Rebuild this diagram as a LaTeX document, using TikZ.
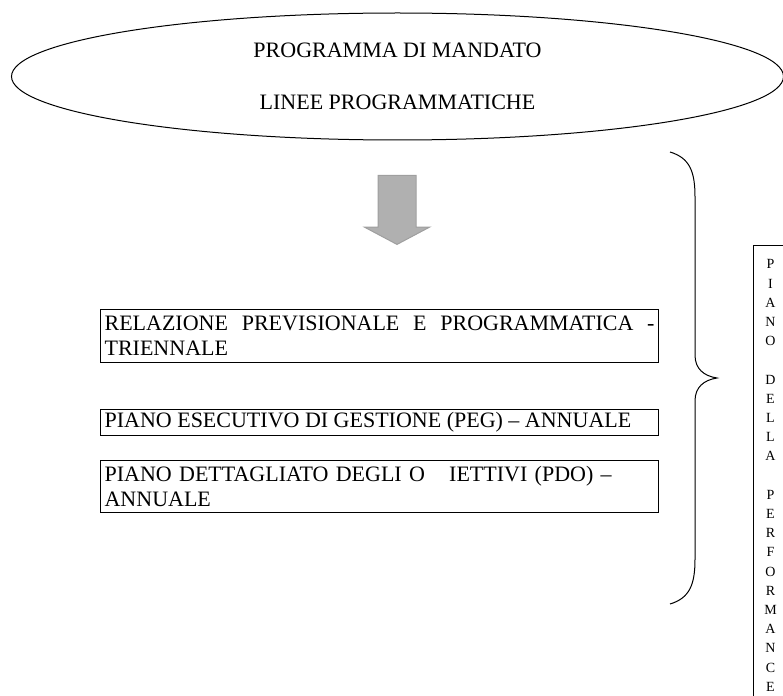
\documentclass[tikz,border=0pt]{standalone}
\usepackage{fontspec}
\setmainfont{Liberation Serif}
\usetikzlibrary{shapes.geometric,shapes.arrows}

\begin{document}
\begin{tikzpicture}
  [x=1pt, y=-1pt, line width=1pt,
   oval/.style={draw, ellipse, minimum width=772pt, minimum height=127pt, align=center, font=\fontsize{22}{52}\selectfont},
   planbox/.style={draw, line width=1.2pt, anchor=north west, text width=550pt, align=justify, inner xsep=4pt, inner ysep=0pt, font=\fontsize{22}{25}\selectfont},
   downarrow/.style={single arrow, shape border rotate=270, draw=gray!75, fill=gray!62, minimum height=69pt, minimum width=64pt, inner sep=18.5pt, single arrow head extend=13.5pt, single arrow tip angle=124},
   letterbox/.style={draw, anchor=north west, minimum width=34pt, minimum height=460pt, align=center, inner sep=0pt, font=\fontsize{14}{19.2}\selectfont}]
  \useasboundingbox (0,0) rectangle (783,695);
  \node[oval] (mandato) at (397.5,76.5) {PROGRAMMA DI MANDATO\\LINEE PROGRAMMATICHE};
  \node[downarrow, anchor=tip] (freccia) at (397,245) {};
  \node[planbox, minimum height=53pt] (rpp) at (100,309) {RELAZIONE PREVISIONALE E PROGRAMMATICA -\linebreak TRIENNALE};
  \node[planbox, minimum height=26pt] (peg) at (100,409) {PIANO ESECUTIVO DI GESTIONE (PEG) -- ANNUALE};
  \node[planbox, minimum height=52pt, align=left] (pdo) at (100,460) {PIANO DETTAGLIATO DEGLI O\hspace{1.1em}IETTIVI (PDO) --\\ANNUALE};
  \coordinate (graffa top) at (670,152);
  \coordinate (graffa tip) at (717,378);
  \coordinate (graffa bot) at (670,604);
  \draw (graffa top) .. controls (690,158) and (695,172) .. (695,197) -- (695,355)
        .. controls (695,369) and (704,376) .. (graffa tip)
        .. controls (704,380) and (695,387) .. (695,401) -- (695,559)
        .. controls (695,584) and (690,598) .. (graffa bot);
  \node[letterbox] (performance) at (753,245) {P\\I\\A\\N\\O\\ \\D\\E\\L\\L\\A\\ \\P\\E\\R\\F\\O\\R\\M\\A\\N\\C\\E};
\end{tikzpicture}
\end{document}
